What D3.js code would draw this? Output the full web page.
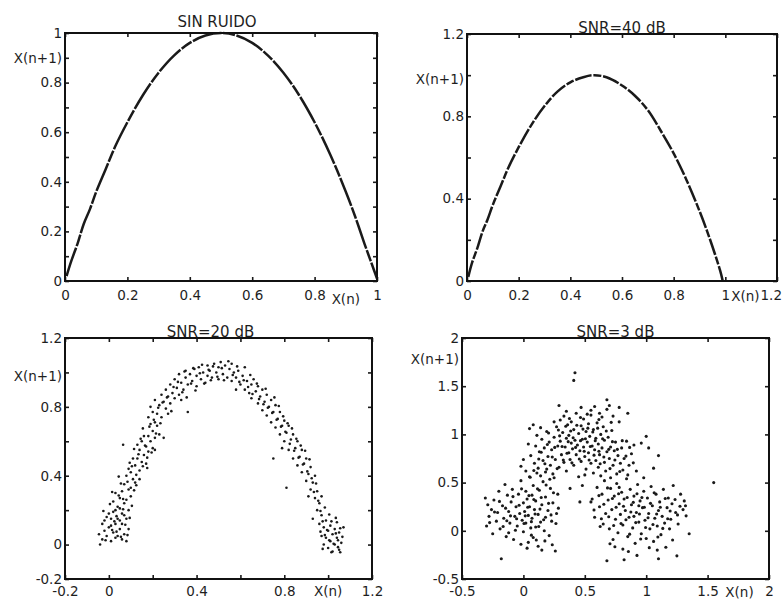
<!DOCTYPE html>
<html><head><meta charset="utf-8">
<script src="https://cdn.jsdelivr.net/npm/d3@7"></script>
<style>
body{margin:0;background:#fff}
text{font-family:"DejaVu Sans",sans-serif;fill:#1e1e1e}
</style>
</head><body>
<svg id="c" width="783" height="599"></svg>
<script>
// ---------- DATA ----------
const titles = ["SIN RUIDO", "SNR=40 dB", "SNR=20 dB", "SNR=3 dB"];

// Panel 1: noiseless map
const cleanX = [0.005,0.02,0.04,0.06,0.08,0.1,0.13,0.16,0.2,0.25,0.3,0.35,0.4,0.45,0.5,0.55,0.6,0.65,0.7,0.75,0.8,0.85,0.9,0.93,0.96,0.98,1.0];
const cleanY = [0.02,0.08,0.15,0.23,0.29,0.36,0.45,0.54,0.64,0.75,0.84,0.91,0.96,0.99,1.0,0.99,0.96,0.91,0.84,0.75,0.64,0.51,0.36,0.26,0.15,0.08,0.01];

// Panel 2: SNR = 40 dB
const snr40X = [0.005,0.02,0.04,0.06,0.08,0.1,0.13,0.16,0.2,0.25,0.3,0.35,0.4,0.45,0.49,0.54,0.6,0.65,0.7,0.75,0.8,0.85,0.9,0.93,0.96,0.98,0.99];
const snr40Y = [0.02,0.09,0.16,0.24,0.30,0.37,0.46,0.55,0.65,0.76,0.85,0.92,0.965,0.99,1.0,0.99,0.95,0.90,0.83,0.73,0.62,0.49,0.34,0.24,0.13,0.05,0.0];

// Panel 3: SNR = 20 dB  [x(n), x(n+1)]
const snr20Points = [
[-0.04,0.00],[-0.03,0.03],[-0.02,0.08],[-0.03,0.12],[-0.01,0.05],[0.00,0.10],[0.01,0.02],[0.01,0.15],[0.02,0.07],[0.02,0.19],
[0.03,0.12],[0.03,0.04],[0.04,0.22],[0.04,0.15],[0.05,0.09],[0.05,0.27],[0.06,0.18],[0.06,0.12],[0.07,0.24],[0.07,0.06],
[0.08,0.02],[0.08,0.15],[0.09,0.20],[0.09,0.09],[0.00,0.18],[-0.02,0.14],[0.02,0.25],[0.03,0.30],[0.05,0.21],[0.06,0.31],
[0.04,0.05],[0.01,0.11],[0.07,0.17],[0.08,0.26],[0.10,0.28],[0.09,0.32],[0.05,0.14],[-0.01,0.16],[0.03,0.20],[0.06,0.03],
[0.07,0.35],[0.08,0.40],[0.10,0.33],[0.10,0.42],[0.11,0.38],[0.12,0.46],[0.12,0.36],[0.13,0.50],[0.14,0.43],[0.14,0.55],
[0.15,0.48],[0.15,0.60],[0.16,0.52],[0.17,0.57],[0.17,0.47],[0.18,0.63],[0.18,0.54],[0.19,0.60],[0.20,0.66],[0.20,0.56],
[0.21,0.62],[0.22,0.69],[0.11,0.50],[0.09,0.44],[0.13,0.58],[0.16,0.63],[0.19,0.70],[0.065,0.58],[0.14,0.38],[0.21,0.55],[0.23,0.64],
[0.18,0.74],[0.19,0.80],[0.20,0.77],[0.21,0.84],[0.22,0.76],[0.23,0.81],[0.24,0.87],[0.24,0.74],[0.25,0.83],[0.26,0.90],
[0.26,0.79],[0.27,0.86],[0.28,0.93],[0.28,0.82],[0.29,0.88],[0.30,0.96],[0.30,0.85],[0.31,0.91],[0.32,0.99],[0.32,0.87],
[0.33,0.94],[0.34,0.90],[0.35,0.97],[0.35,1.01],[0.36,0.77],[0.36,0.93],[0.37,0.99],[0.38,0.95],[0.39,1.02],[0.40,0.92],
[0.40,0.98],[0.41,1.03],[0.42,0.96],[0.43,1.00],[0.44,0.94],[0.45,1.04],[0.45,0.98],[0.46,1.01],[0.47,0.97],[0.48,1.05],
[0.49,1.00],[0.50,1.03],[0.50,0.96],[0.25,0.62],[0.21,0.71],[0.27,0.76],[0.33,0.84],
[0.51,1.06],[0.52,0.99],[0.53,1.04],[0.54,0.97],[0.55,1.02],[0.56,1.05],[0.56,0.95],[0.57,1.00],[0.58,0.97],[0.59,1.01],
[0.60,0.93],[0.61,0.98],[0.62,0.90],[0.63,0.95],[0.64,0.88],[0.65,0.93],[0.65,0.85],[0.66,0.96],[0.67,0.89],[0.68,0.82],
[0.68,0.92],[0.69,0.86],[0.70,0.78],[0.70,0.90],[0.71,0.83],[0.72,0.75],[0.72,0.87],[0.73,0.80],[0.74,0.71],[0.74,0.84],
[0.75,0.77],[0.76,0.68],[0.76,0.81],[0.77,0.73],[0.78,0.64],[0.78,0.77],[0.79,0.69],[0.80,0.60],[0.80,0.72],[0.81,0.65],
[0.82,0.55],[0.82,0.69],[0.83,0.61],[0.84,0.50],[0.84,0.64],[0.85,0.56],[0.86,0.46],[0.86,0.60],[0.87,0.51],[0.88,0.42],
[0.88,0.55],[0.89,0.47],[0.90,0.37],[0.90,0.50],[0.91,0.41],[0.92,0.32],[0.92,0.45],[0.93,0.36],[0.94,0.27],[0.94,0.40],
[0.95,0.31],[0.95,0.20],[0.96,0.24],[0.96,0.12],[0.97,0.17],[0.97,0.05],[0.98,0.10],[0.98,0.00],[0.99,0.14],[0.99,0.04],
[1.00,0.08],[1.00,-0.02],[1.01,0.11],[1.01,0.02],[1.02,0.06],[1.02,-0.04],[1.03,0.09],[1.03,0.00],[1.04,0.04],[1.05,-0.03],
[1.05,0.07],[1.06,0.01],[1.07,0.10],[0.75,0.50],[0.81,0.33],[0.58,0.90],[0.62,1.03],[0.79,0.56],[0.91,0.28],[0.97,0.28],
[0.93,0.15],[1.04,0.13],
[-0.045,0.06],[-0.015,0.025],[0.015,0.085],[0.035,0.165],[0.055,0.045],[0.025,0.135],[0.065,0.205],[0.045,0.285],[0.075,0.115],[-0.025,0.195],
[0.005,0.235],[0.085,0.055],[0.015,0.305],[0.095,0.155],[0.055,0.355],[0.035,0.075],[0.105,0.225],[0.065,0.265],[0.115,0.315],[0.045,0.395],
[0.085,0.365],[0.105,0.455],[0.125,0.405],[0.135,0.525],[0.155,0.455],[0.165,0.575],[0.145,0.615],[0.175,0.505],[0.185,0.685],[0.195,0.535],
[0.205,0.725],[0.215,0.645],[0.225,0.795],[0.235,0.705],[0.245,0.825],[0.115,0.555],[0.095,0.475],[0.155,0.675],[0.125,0.345],[0.175,0.445],
[0.265,0.855],[0.285,0.775],[0.295,0.915],[0.315,0.945],[0.335,0.885],[0.345,1.005],[0.355,0.855],[0.375,0.935],[0.385,1.025],[0.395,0.895],
[0.415,0.995],[0.425,1.045],[0.435,0.935],[0.455,1.015],[0.465,0.955],[0.475,1.035],[0.495,0.975],[0.515,1.025],[0.525,0.955],[0.545,1.065],
[0.565,0.985],[0.585,1.035],[0.595,0.945],[0.615,0.955],[0.635,0.915],[0.645,0.985],[0.655,0.875],[0.675,0.935],
[0.685,0.845],[0.705,0.815],[0.715,0.905],[0.725,0.795],[0.745,0.765],[0.755,0.855],[0.765,0.725],[0.775,0.805],[0.785,0.685],[0.795,0.745],
[0.805,0.655],[0.815,0.705],[0.825,0.585],[0.835,0.675],[0.845,0.545],[0.855,0.615],[0.865,0.505],[0.875,0.575],[0.885,0.465],[0.895,0.545],
[0.905,0.425],[0.915,0.495],[0.925,0.385],[0.935,0.305],[0.945,0.355],[0.955,0.255],[0.965,0.195],[0.975,0.135],[0.985,0.215],[0.995,0.085],
[1.005,0.025],[1.015,0.135],[1.025,0.005],[1.035,0.065],[1.045,-0.015],[1.055,0.095],[1.065,0.045],[0.975,-0.025],[0.985,0.055],[1.015,-0.045],
[1.035,0.155],[1.055,-0.045],[0.965,0.075],[1.005,0.175],[1.045,0.025]
];

// Panel 4: SNR = 3 dB  [x(n), x(n+1)]
const snr3Points = [
[-0.31,0.34],[-0.30,0.05],[-0.29,0.27],[-0.28,0.15],[-0.26,0.22],[-0.25,-0.03],[-0.24,0.32],[-0.22,0.10],[-0.21,0.19],[-0.20,0.41],
[-0.19,0.02],[-0.18,-0.29],[-0.17,0.26],[-0.16,0.13],[-0.15,0.48],[-0.14,-0.06],[-0.13,0.37],[-0.12,0.20],[-0.11,0.08],[-0.10,0.30],
[-0.09,0.43],[-0.08,-0.09],[-0.07,0.15],[-0.06,0.25],[-0.05,0.05],[-0.04,0.38],[-0.03,0.18],[-0.02,0.52],[-0.01,0.11],[0.00,0.29],
[0.00,-0.01],[0.01,0.20],[0.02,0.41],[0.02,0.08],[0.03,0.33],[0.04,-0.12],[0.04,0.16],[0.05,0.56],[0.05,0.25],[0.06,0.03],
[0.07,0.37],[0.07,0.13],[0.08,0.47],[0.08,-0.07],[0.09,0.22],[0.10,0.31],[0.10,0.04],[0.11,0.60],[0.12,0.17],[0.12,-0.16],
[0.13,0.42],[0.14,0.09],[0.15,-0.20],[0.15,0.27],[0.16,0.51],[0.17,0.00],[0.18,0.35],[0.18,0.14],[0.19,0.64],[0.20,0.21],
[0.21,-0.05],[0.22,0.44],[0.23,0.10],[0.24,0.29],[0.25,0.55],[0.26,-0.21],[0.27,0.18],[0.28,0.38],[-0.02,-0.14],[0.03,-0.18],[-0.12,-0.02],
[-0.02,0.67],[0.00,0.74],[0.02,0.62],[0.04,0.90],[0.05,1.06],[0.06,0.78],[0.08,1.10],[0.09,0.70],[0.10,0.88],[0.11,0.99],
[0.12,0.65],[0.13,0.82],[0.14,0.57],[0.15,0.95],[0.16,0.73],[0.17,0.86],[0.18,0.61],[0.19,1.03],[0.20,0.77],[0.21,0.92],
[0.22,0.68],[0.23,0.84],[0.24,0.59],[0.25,0.97],[0.26,0.74],[0.27,1.08],[0.28,0.88],[0.29,0.66],[0.30,1.15],[0.30,0.93],
[0.31,0.79],[0.32,1.02],[0.33,0.71],[0.33,1.19],[0.34,0.87],[0.35,0.96],[0.35,0.62],[0.36,1.10],[0.37,0.81],[0.37,0.99],
[0.38,0.74],[0.39,0.91],[0.39,1.13],[0.40,0.85],[0.41,1.05],[0.41,0.68],[0.42,0.94],[0.43,0.79],[0.43,1.22],[0.44,0.89],
[0.45,1.01],[0.45,0.56],[0.46,0.83],[0.47,1.09],[0.47,0.72],[0.48,0.95],[0.49,0.87],[0.49,1.16],[0.50,0.77],[0.51,1.03],
[0.51,0.64],[0.52,0.92],[0.53,1.11],[0.53,0.81],[0.54,0.98],[0.55,0.70],[0.55,1.20],[0.56,0.88],[0.57,1.05],[0.57,0.60],
[0.58,0.84],[0.59,0.96],[0.59,0.73],[0.60,1.12],[0.61,0.66],[0.61,0.90],[0.62,0.79],[0.63,1.00],[0.63,0.57],[0.64,0.86],
[0.65,1.08],[0.66,0.71],[0.66,0.94],[0.67,0.62],[0.68,0.82],[0.68,1.26],[0.69,0.97],[0.70,0.75],[0.71,0.87],[0.71,0.55],
[0.72,1.04],[0.73,0.68],[0.74,0.83],[0.75,0.92],[0.76,0.59],[0.77,0.78],[0.78,1.13],[0.79,0.70],[0.80,0.86],[0.81,0.63],
[0.82,0.75],[0.84,0.93],[0.85,0.58],[0.86,0.68],[0.88,0.80],[0.90,0.89],[0.92,0.62],[0.25,1.13],[0.14,1.07],[0.50,0.58],
[0.42,1.64],[0.41,1.56],[0.29,1.30],[0.35,1.24],[0.47,1.28],[0.55,1.25],[0.62,1.22],[0.68,1.36],[0.70,1.30],[0.78,1.28],
[0.85,1.22],[0.64,1.18],[0.73,1.19],[0.52,1.21],[0.58,1.29],[1.00,0.98],[1.02,0.86],[1.10,0.78],[1.06,0.65],[0.96,0.91],
[0.55,0.30],[0.58,0.14],[0.60,0.45],[0.62,0.25],[0.64,0.38],[0.65,0.07],[0.66,0.52],[0.67,0.18],[0.68,-0.31],[0.69,0.32],
[0.70,0.02],[0.71,0.44],[0.72,0.22],[0.73,-0.09],[0.74,0.36],[0.75,0.12],[0.76,0.49],[0.77,-0.02],[0.78,0.28],[0.79,0.17],
[0.80,0.40],[0.81,-0.19],[0.81,0.06],[0.82,0.33],[0.83,0.21],[0.84,0.54],[0.85,-0.06],[0.86,0.14],[0.87,0.43],[0.88,0.27],
[0.89,0.03],[0.90,0.36],[0.91,-0.13],[0.92,0.19],[0.93,0.48],[0.94,0.09],[0.95,0.31],[0.96,-0.03],[0.97,0.24],[0.98,0.41],
[0.99,0.11],[1.00,-0.08],[1.01,0.34],[1.02,0.18],[1.03,0.02],[1.04,0.46],[1.05,0.26],[1.06,-0.11],[1.07,0.13],[1.08,0.38],
[1.09,0.05],[1.10,-0.29],[1.10,0.21],[1.11,0.30],[1.12,-0.04],[1.13,0.15],[1.14,0.43],[1.15,0.08],[1.16,-0.17],[1.17,0.24],
[1.18,0.34],[1.19,0.02],[1.20,0.12],[1.21,0.28],[1.22,0.47],[1.24,0.19],[1.25,-0.26],[1.26,0.07],[1.28,0.38],[1.30,0.22],
[1.31,0.31],[1.32,0.26],[1.35,-0.03],[1.55,0.50],[0.82,-0.30],[1.09,-0.20],[0.98,0.55],[0.90,0.15],[0.78,0.45],[0.94,0.26],
[0.46,0.30],[0.56,0.33],[0.38,0.44],[0.48,0.47],
[-0.275,0.085],[-0.235,0.195],[-0.195,0.305],[-0.165,0.045],[-0.145,0.235],[-0.105,0.155],[-0.085,0.355],[-0.055,0.125],[-0.035,0.265],[-0.015,0.435],
[0.015,0.155],[0.035,0.245],[0.045,0.365],[0.065,0.095],[0.085,0.325],[0.095,0.175],[0.115,0.435],[0.135,0.225],[0.145,0.345],[0.165,0.115],
[0.185,0.475],[0.205,0.285],[0.225,0.165],[0.245,0.395],[0.265,0.075],[0.285,0.235],[0.065,-0.045],[0.125,0.045],[-0.065,0.005],[0.005,0.075],
[0.175,-0.105],[-0.135,0.105],[0.235,-0.145],[0.105,-0.095],
[0.055,0.555],[0.085,0.625],[0.125,0.745],[0.145,0.815],[0.175,0.695],[0.195,0.895],[0.215,0.535],[0.235,0.765],[0.255,0.865],[0.275,0.645],
[0.295,0.985],[0.315,0.875],[0.325,0.735],[0.345,1.085],[0.355,0.805],[0.365,0.925],[0.385,1.035],[0.395,0.705],[0.405,0.965],[0.425,0.865],
[0.435,1.095],[0.455,0.745],[0.465,0.935],[0.485,1.055],[0.495,0.825],[0.505,0.955],[0.525,1.065],[0.535,0.735],[0.545,0.875],[0.565,1.025],
[0.575,0.785],[0.585,0.935],[0.605,1.065],[0.615,0.825],[0.625,0.695],[0.645,0.955],[0.655,0.765],[0.675,1.035],[0.695,0.845],[0.705,0.645],
[0.725,0.925],[0.745,0.735],[0.765,0.845],[0.785,0.615],[0.805,0.935],[0.835,0.775],[0.865,0.865],[0.895,0.705],[0.375,1.165],[0.465,1.175],
[0.615,1.155],[0.715,1.125],[0.285,1.045],[0.205,1.015],
[0.575,0.215],[0.615,0.365],[0.635,0.125],[0.655,0.275],[0.685,0.445],[0.695,0.145],[0.725,0.335],[0.735,0.055],[0.755,0.245],[0.775,0.385],
[0.795,0.075],[0.815,0.255],[0.835,0.115],[0.845,0.345],[0.865,-0.035],[0.875,0.195],[0.895,0.295],[0.915,0.085],[0.925,0.385],[0.945,0.175],
[0.955,-0.085],[0.965,0.345],[0.985,0.245],[0.995,0.035],[1.015,0.135],[1.035,0.285],[1.055,0.065],[1.065,0.395],[1.085,0.175],[1.095,-0.065],
[1.115,0.245],[1.135,0.025],[1.155,0.335],[1.175,0.125],[1.195,0.205],[1.215,-0.095],[1.235,0.325],[1.255,0.165],[0.745,-0.165],[0.855,-0.215],
[1.025,-0.175],[0.925,-0.255],[0.705,-0.135],[0.625,0.045],[1.275,0.255],[1.325,0.155]
];

// Axis ticks and labels
const p1XTicks = [0,0.2,0.4,0.6,0.8,1];
const p1XLabels = ["0","0.2","0.4","0.6","0.8","1"];
const p1YTicks = [0,0.1,0.2,0.3,0.4,0.5,0.6,0.7,0.8,0.9,1];
const p1YLabels = ["0","","0.2","","0.4","","0.6","","0.8","","1"];

const p2XTicks = [0,0.2,0.4,0.6,0.8,1,1.2];
const p2XLabels = ["0","0.2","0.4","0.6","0.8","1",""];
const p2YTicks = [0,0.2,0.4,0.6,0.8,1,1.2];
const p2YLabels = ["0","","0.4","","0.8","","1.2"];

const p3XTicks = [-0.2,0,0.2,0.4,0.6,0.8,1,1.2];
const p3XLabels = ["-0.2","0","","0.4","","0.8","","1.2"];
const p3YTicks = [-0.2,0,0.2,0.4,0.6,0.8,1,1.2];
const p3YLabels = ["-0.2","0","","0.4","","0.8","","1.2"];

const p4XTicks = [-0.5,0,0.5,1,1.5,2];
const p4XLabels = ["-0.5","0","0.5","1","1.5","2"];
const p4YTicks = [-0.5,0,0.5,1,1.5,2];
const p4YLabels = ["-0.5","0","0.5","1","1.5","2"];

const xLabel = "X(n)";
const yLabel = "X(n+1)";

// ---------- DRAW ----------
const svg = d3.select("#c");

const panels = [
  {title:titles[0], box:[65,377,33,281], xd:[0,1], yd:[0,1],
   xt:p1XTicks, xl:p1XLabels, yt:p1YTicks, yl:p1YLabels, xPad:9,
   xLabAt:0.9, xLabDy:4, yLabAt:0.9, yLabDy:1, titleDx:-4, titleDy:-6,
   line:cleanX.map((x,i)=>[x,cleanY[i]])},
  {title:titles[1], box:[467,777,34,281], xd:[0,1.2], yd:[0,1.2],
   xt:p2XTicks, xl:p2XLabels, yt:p2YTicks, yl:p2YLabels, xPad:9,
   xLabAt:1.078, xLabDy:1, yLabAt:1.0, yLabDy:5, titleDx:0, titleDy:-1,
   line:snr40X.map((x,i)=>[x,snr40Y[i]])},
  {title:titles[2], box:[65,372,338,579], xd:[-0.2,1.2], yd:[-0.2,1.2],
   xt:p3XTicks, xl:p3XLabels, yt:p3YTicks, yl:p3YLabels, xPad:7,
   xLabAt:1.0, xLabDy:0, yLabAt:1.0, yLabDy:4, titleDx:-8, titleDy:-1,
   pts:snr20Points, r:1.3},
  {title:titles[3], box:[462,769,338,579], xd:[-0.5,2], yd:[-0.5,2],
   xt:p4XTicks, xl:p4XLabels, yt:p4YTicks, yl:p4YLabels, xPad:7,
   xLabAt:1.76, xLabDy:1, yLabAt:1.78, yLabDy:0, titleDx:0, titleDy:-1,
   pts:snr3Points, r:1.55}
];

const FS = 13.5;

panels.forEach((p,pi) => {
  const [x0,x1,y0,y1] = p.box;
  const x = d3.scaleLinear().domain(p.xd).range([x0,x1]);
  const y = d3.scaleLinear().domain(p.yd).range([y1,y0]);
  const g = svg.append("g");

  // data
  if (p.line) {
    g.append("path").datum(p.line)
      .attr("d", d3.line().x(d=>x(d[0])).y(d=>y(d[1])).curve(d3.curveCatmullRom))
      .attr("fill","none").attr("stroke","#1a1a1a").attr("stroke-width",2.5)
      .attr("stroke-dasharray", pi===0 ? "30 1.6 12 1.6" : "17 1.8 8 1.8")
      .attr("stroke-linecap","butt");
  }
  if (p.pts) {
    g.selectAll("circle").data(p.pts).enter().append("circle")
      .attr("cx", d=>x(d[0])).attr("cy", d=>y(d[1])).attr("r", p.r)
      .attr("fill","#1a1a1a");
  }

  const fmtX = v => { const i = p.xt.findIndex(t=>Math.abs(t-v)<1e-9); return i>=0 ? p.xl[i] : ""; };
  const fmtY = v => { const i = p.yt.findIndex(t=>Math.abs(t-v)<1e-9); return i>=0 ? p.yl[i] : ""; };

  const styleAxis = sel => {
    sel.select(".domain").remove();
    sel.selectAll(".tick line").attr("stroke","#1a1a1a").attr("stroke-width",1.6);
    sel.selectAll("text").attr("font-size",FS).attr("font-family","DejaVu Sans, sans-serif").attr("fill","#1e1e1e");
  };

  g.append("g").attr("transform",`translate(0,${y1})`)
    .call(d3.axisBottom(x).tickValues(p.xt).tickSize(-4).tickPadding(p.xPad).tickFormat(fmtX))
    .call(styleAxis);
  g.append("g").attr("transform",`translate(0,${y0})`)
    .call(d3.axisTop(x).tickValues(p.xt).tickSize(-4).tickFormat(""))
    .call(styleAxis);
  g.append("g").attr("transform",`translate(${x0},0)`)
    .call(d3.axisLeft(y).tickValues(p.yt).tickSize(-4).tickPadding(3).tickFormat(fmtY))
    .call(styleAxis);
  g.append("g").attr("transform",`translate(${x1},0)`)
    .call(d3.axisRight(y).tickValues(p.yt).tickSize(-4).tickFormat(""))
    .call(styleAxis);

  // frame
  g.append("rect").attr("x",x0).attr("y",y0).attr("width",x1-x0).attr("height",y1-y0)
    .attr("fill","none").attr("stroke","#111").attr("stroke-width",2);

  // title
  g.append("text").attr("x",(x0+x1)/2 + p.titleDx).attr("y",y0+p.titleDy)
    .attr("text-anchor","middle").attr("font-size",15).text(p.title);

  // axis labels
  g.append("text").attr("x",x(p.xLabAt)).attr("y",y1+p.xPad+p.xLabDy).attr("dy","0.71em")
    .attr("text-anchor","middle").attr("font-size",FS).text(xLabel);
  g.append("text").attr("x",x0-3).attr("y",y(p.yLabAt)+p.yLabDy).attr("dy","0.32em")
    .attr("text-anchor","end").attr("font-size",FS).text(yLabel);

  // last x tick label of panel 2 sits at the edge of the page
  if (pi===1) {
    g.append("text").attr("x",782).attr("y",y1+p.xPad).attr("dy","0.71em")
      .attr("text-anchor","end").attr("font-size",FS).text("1.2");
  }
});
</script>
</body></html>
